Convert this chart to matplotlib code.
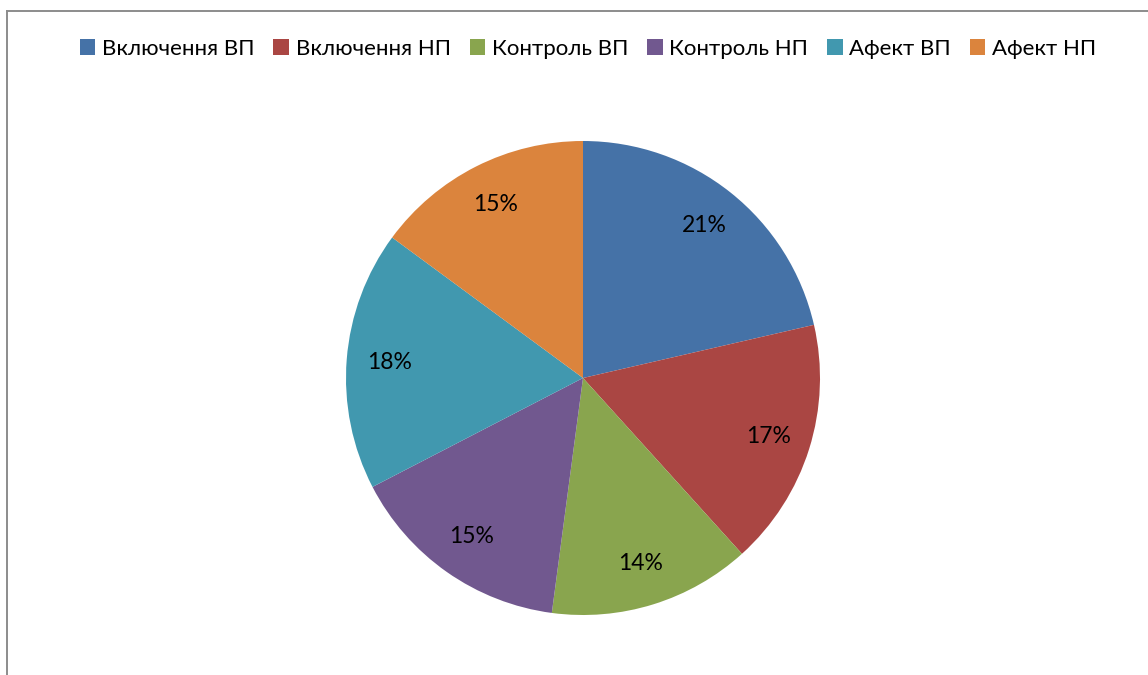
import matplotlib.pyplot as plt
from matplotlib.lines import Line2D

labels = ['Включення ВП', 'Включення НП', 'Контроль ВП', 'Контроль НП', 'Афект ВП', 'Афект НП']
values = [21.4, 16.9, 13.8, 15.3, 17.7, 14.9]
colors = ['#4572A7', '#AA4643', '#89A54E', '#71588F', '#4198AF', '#DB843D']

plt.rcParams['font.family'] = ['Lato', 'DejaVu Sans']

W, H = 1148, 675
fig = plt.figure(figsize=(W / 100, H / 100), dpi=100)

# pie axes: centre (583, 378) px, radius ~237 px
r = 237
ax = fig.add_axes([(583 - r) / W, (H - 378 - r) / H, 2 * r / W, 2 * r / H])
wedges, texts, autotexts = ax.pie(values, colors=colors, startangle=90, counterclock=False,
                                  autopct='%1.0f%%', pctdistance=0.82, radius=1,
                                  textprops={'fontsize': 16.5, 'color': 'black'})
ax.set_xlim(-1, 1)
ax.set_ylim(-1, 1)
ax.set_aspect('equal')
ax.axis('off')

fig.legend(wedges, labels, loc='center', bbox_to_anchor=(588 / W, 1 - 49 / H), ncol=6,
           frameon=False, fontsize=16, handlelength=0.7, handleheight=0.7,
           handletextpad=0.3, columnspacing=0.85)

# chart area border (top and left visible)
fig.add_artist(Line2D([6.5 / W, 1], [1 - 10.5 / H, 1 - 10.5 / H], transform=fig.transFigure,
                      color='#8c8c8c', lw=1.4))
fig.add_artist(Line2D([6.5 / W, 6.5 / W], [0, 1 - 10.5 / H], transform=fig.transFigure,
                      color='#8c8c8c', lw=1.4))

plt.savefig('out.png', dpi=100)
